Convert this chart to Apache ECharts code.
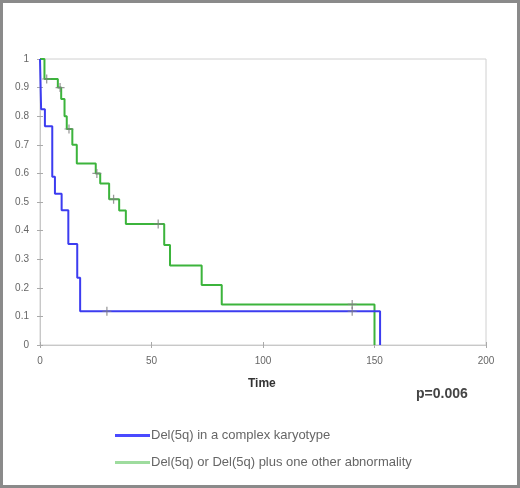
<!DOCTYPE html>
<html><head><meta charset="utf-8">
<script src="https://cdn.jsdelivr.net/npm/echarts@6/dist/echarts.min.js"></script>
<style>html,body{margin:0;padding:0;background:#fff}#c{width:520px;height:488px}</style>
</head><body><div id="c"></div>
<script>
// Kaplan-Meier step data (time, survival after event)
const blueName = 'Del(5q) in a complex karyotype';
const greenName = 'Del(5q) or Del(5q) plus one other abnormality';
const blueTimes = [0, 0.5, 2.2, 5.5, 6.7, 9.7, 12.7, 16.7, 18, 152.5];
const blueSurv  = [1, 0.824, 0.765, 0.588, 0.529, 0.471, 0.353, 0.235, 0.118, 0];
const blueCensorTimes = [30, 140];
const blueCensorSurv  = [0.118, 0.118];
const greenTimes = [0, 2.0, 8, 9.5, 11, 12, 14.5, 16.5, 25, 27, 31, 35.5, 38.5, 55.7, 58.3, 72.5, 81.5, 150];
const greenSurv  = [1, 0.93, 0.9, 0.86, 0.80, 0.755, 0.70, 0.635, 0.60, 0.565, 0.51, 0.47, 0.423, 0.35, 0.278, 0.21, 0.142, 0];
const greenCensorTimes = [3, 9, 13, 25.5, 33, 53, 140];
const greenCensorSurv  = [0.93, 0.9, 0.755, 0.60, 0.51, 0.423, 0.142];
const xTicks = [0, 50, 100, 150, 200];
const pText = 'p=0.006';
const xTitle = 'Time';

const zip = (a, b) => a.map((v, i) => [v, b[i]]);
const plus = 'path://M4.3,0 H5.7 V10 H4.3 Z M0,4.4 H10 V5.6 H0 Z';

const chart = echarts.init(document.getElementById('c'), null, {renderer: 'canvas'});
const axisLbl = {fontFamily: 'Liberation Sans', fontSize: 10, color: '#666'};
chart.setOption({
  animation: false,
  backgroundColor: '#fff',
  grid: {left: 40, right: 34, top: 59, bottom: 143, show: true, borderColor: '#d0d0d0', borderWidth: 1},
  xAxis: [
    {type: 'value', min: 0, max: 200, interval: 50,
     axisLine: {lineStyle: {color: '#c8c8c8'}},
     axisTick: {show: true, length: 3, lineStyle: {color: '#aaa'}},
     axisLabel: Object.assign({margin: 11}, axisLbl),
     splitLine: {show: false}},
    {type: 'value', min: 0, max: 200, interval: 50, position: 'bottom',
     axisLine: {show: false}, axisTick: {show: true, inside: true, length: 3, lineStyle: {color: '#aaa'}},
     axisLabel: {show: false}, splitLine: {show: false}}
  ],
  yAxis: [
    {type: 'value', min: 0, max: 1, interval: 0.1,
     axisLine: {show: true, lineStyle: {color: '#c8c8c8'}},
     axisTick: {show: true, length: 3, lineStyle: {color: '#aaa'}},
     axisLabel: Object.assign({margin: 11, formatter: v => String(+v.toFixed(1))}, axisLbl),
     splitLine: {show: false}},
    {type: 'value', min: 0, max: 1, interval: 0.1, position: 'left',
     axisLine: {show: false}, axisTick: {show: true, inside: true, length: 3, lineStyle: {color: '#aaa'}},
     axisLabel: {show: false}, splitLine: {show: false}}
  ],
  legend: {
    orient: 'vertical', left: 110, top: 424, itemGap: 14,
    icon: 'rect', itemWidth: 35, itemHeight: 3,
    textStyle: {fontFamily: 'Liberation Sans', fontSize: 13, color: '#666', padding: [0, 0, 0, -4]},
    data: [
      {name: blueName, itemStyle: {color: '#4a4aff'}},
      {name: greenName, itemStyle: {color: '#9edc9e'}}
    ]
  },
  graphic: [
    {type: 'text', left: 248, top: 378, style: {text: xTitle, font: 'bold 12px Liberation Sans', fill: '#333'}},
    {type: 'text', left: 416, top: 387, style: {text: pText, font: 'bold 14px Liberation Sans', fill: '#444'}},
    {type: 'rect', shape: {x: 1.5, y: 1.5, width: 517, height: 485}, style: {fill: 'none', stroke: '#8a8a8a', lineWidth: 3}, silent: true}
  ],
  series: [
    {name: greenName, type: 'line', step: 'end', data: zip(greenTimes, greenSurv),
     symbol: 'none', lineStyle: {color: '#3cb43c', width: 2}, itemStyle: {color: '#3cb43c'}, z: 2},
    {name: blueName, type: 'line', step: 'end', data: zip(blueTimes, blueSurv),
     symbol: 'none', lineStyle: {color: '#3c3cf0', width: 2}, itemStyle: {color: '#3c3cf0'}, z: 3},
    {name: 'gc', type: 'scatter', data: zip(greenCensorTimes, greenCensorSurv), symbol: plus, symbolSize: [9, 9],
     itemStyle: {color: '#808080'}, z: 5},
    {name: 'bc', type: 'scatter', data: zip(blueCensorTimes, blueCensorSurv), symbol: plus, symbolSize: [9, 9],
     itemStyle: {color: '#808080'}, z: 5}
  ]
});
</script></body></html>
